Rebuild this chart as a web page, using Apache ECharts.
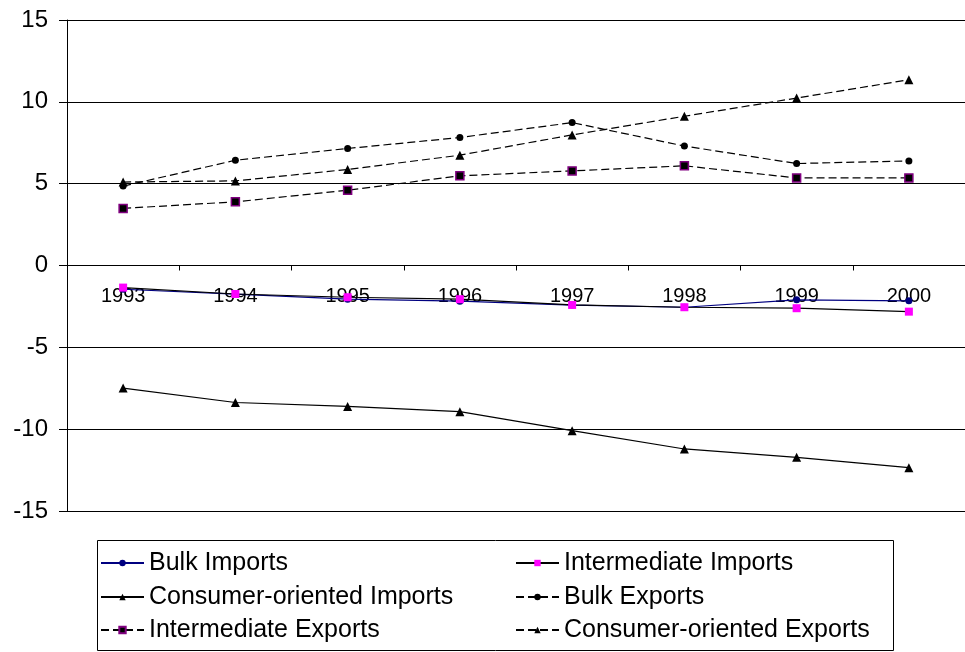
<!DOCTYPE html>
<html>
<head>
<meta charset="utf-8">
<script src="https://cdn.jsdelivr.net/npm/echarts@6/dist/echarts.min.js"></script>
<style>
html,body{margin:0;padding:0;background:#fff;}
#c{width:965px;height:652px;}
</style>
</head>
<body>
<div id="c"></div>
<script>
const years = ['1993','1994','1995','1996','1997','1998','1999','2000'];
const bulkImports = [-1.45, -1.75, -2.06, -2.18, -2.42, -2.55, -2.1, -2.16];
const intermediateImports = [-1.35, -1.74, -1.94, -2.06, -2.41, -2.55, -2.61, -2.82];
const consumerImports = [-7.49, -8.37, -8.61, -8.93, -10.09, -11.21, -11.72, -12.35];
const bulkExports = [4.85, 6.43, 7.15, 7.82, 8.73, 7.3, 6.23, 6.39];
const intermediateExports = [3.49, 3.89, 4.6, 5.48, 5.78, 6.09, 5.35, 5.35];
const consumerExports = [5.1, 5.17, 5.87, 6.74, 7.98, 9.12, 10.23, 11.35];
const yTicks = [-15, -10, -5, 0, 5, 10, 15];

const FONT = "'Liberation Sans', Arial, sans-serif";
const dash = [8, 4];

const names = ['Bulk Imports','Intermediate Imports','Consumer-oriented Imports','Bulk Exports','Intermediate Exports','Consumer-oriented Exports'];
const legendPos = [
  [100, 563], [515, 563],
  [100, 597], [515, 597],
  [100, 630], [515, 630]
];

const gridTop = 20, gridBottomPx = 511;
const yMin = yTicks[0], yMax = yTicks[yTicks.length - 1];
const zeroY = gridTop + (gridBottomPx - gridTop) * (yMax / (yMax - yMin));

const chart = echarts.init(document.getElementById('c'), null, {renderer: 'canvas'});

const legends = names.map((n, i) => ({
  data: [n],
  left: legendPos[i][0],
  top: legendPos[i][1] - 15,
  padding: 0,
  itemWidth: 43,
  itemHeight: 8,
  selectedMode: false,
  textStyle: {fontFamily: FONT, fontSize: 25, color: '#000', lineHeight: 30}
}));

chart.setOption({
  animation: false,
  backgroundColor: '#fff',
  grid: {left: 67, right: -4, top: gridTop, bottom: 652 - gridBottomPx, containLabel: false},
  legend: legends,
  graphic: [{
    type: 'rect',
    shape: {x: 97.5, y: 540.5, width: 796, height: 110},
    style: {fill: 'none', stroke: '#000', lineWidth: 1},
    z: 0
  }],
  xAxis: {
    type: 'category',
    data: years,
    boundaryGap: true,
    offset: -(gridBottomPx - zeroY),
    axisLine: {onZero: false, lineStyle: {color: '#000', width: 1}},
    axisTick: {show: true, length: 5, lineStyle: {color: '#000'}},
    axisLabel: {color: '#000', fontFamily: FONT, fontSize: 20, margin: 21},
    splitLine: {show: false}
  },
  yAxis: {
    type: 'value',
    min: yMin,
    max: yMax,
    interval: 5,
    axisLine: {show: true, lineStyle: {color: '#000', width: 1}},
    axisTick: {show: true, length: 8, lineStyle: {color: '#000'}},
    axisLabel: {color: '#000', fontFamily: FONT, fontSize: 24, margin: 19},
    splitLine: {show: true, lineStyle: {color: '#000', width: 1}}
  },
  series: [
    {
      name: names[0], type: 'line', data: bulkImports,
      symbol: 'circle', symbolSize: 7,
      lineStyle: {color: '#000080', width: 1.2},
      itemStyle: {color: '#000080'}
    },
    {
      name: names[1], type: 'line', data: intermediateImports,
      symbol: 'rect', symbolSize: 8,
      lineStyle: {color: '#000', width: 1.2},
      itemStyle: {color: '#ff00ff'}
    },
    {
      name: names[2], type: 'line', data: consumerImports,
      symbol: 'triangle', symbolSize: 9,
      lineStyle: {color: '#000', width: 1.2},
      itemStyle: {color: '#000'}
    },
    {
      name: names[3], type: 'line', data: bulkExports,
      symbol: 'circle', symbolSize: 7,
      lineStyle: {color: '#000', width: 1.2, type: dash},
      itemStyle: {color: '#000'}
    },
    {
      name: names[4], type: 'line', data: intermediateExports,
      symbol: 'rect', symbolSize: 8,
      lineStyle: {color: '#000', width: 1.2, type: dash},
      itemStyle: {color: '#000', borderColor: '#800080', borderWidth: 1.5}
    },
    {
      name: names[5], type: 'line', data: consumerExports,
      symbol: 'triangle', symbolSize: 9,
      lineStyle: {color: '#000', width: 1.2, type: dash},
      itemStyle: {color: '#000'}
    }
  ]
});
</script>
</body>
</html>
